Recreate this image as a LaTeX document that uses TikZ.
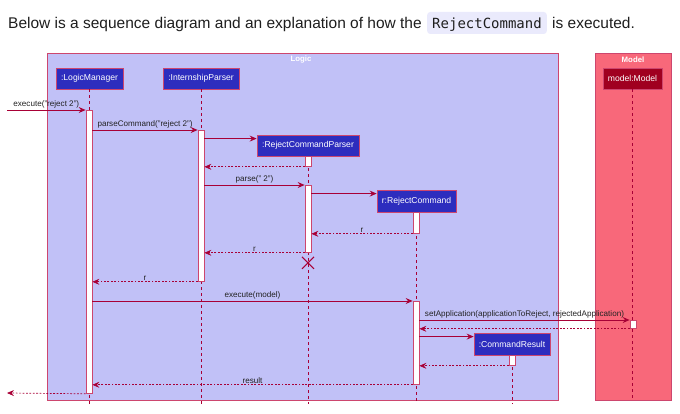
\documentclass[tikz,border=0pt]{standalone}
\usepackage{fontspec}
\setmainfont{Liberation Sans}
\newfontfamily\codefont{DejaVu Sans Mono}
\usetikzlibrary{arrows.meta,calc}
\definecolor{crim}{RGB}{168,0,54}
\definecolor{logicbg}{RGB}{193,193,247}
\definecolor{framebd}{RGB}{205,70,110}
\definecolor{partbg}{RGB}{45,45,190}
\definecolor{modelbg}{RGB}{248,104,122}
\definecolor{modelbox}{RGB}{160,0,32}
\definecolor{codebg}{RGB}{234,234,252}
\definecolor{titlec}{RGB}{30,30,30}
\definecolor{lblc}{RGB}{35,35,35}
\begin{document}
\begin{tikzpicture}[x=1pt,y=-1pt,
  part/.style={draw=framebd, fill=partbg, line width=0.8pt, text=white, minimum height=21pt, inner sep=0pt,
    font=\fontsize{8.6}{9}\selectfont},
  actbox/.style={draw=framebd, fill=white, line width=0.8pt, minimum width=6pt, inner sep=0pt, anchor=north},
  tip/.tip={Stealth[length=7pt,width=6pt,inset=2.5pt]},
  msg/.style={draw=crim, line width=0.7pt, -tip},
  ret/.style={msg, dash pattern=on 1.8pt off 1.6pt},
  lifeline/.style={draw=crim, line width=0.6pt, dash pattern=on 3pt off 3pt},
  lbl/.style={font=\fontsize{8.1}{8.5}\selectfont, text=lblc, inner sep=1pt, above},
  ftitle/.style={font=\bfseries\fontsize{7.8}{8}\selectfont, text=white}]
\useasboundingbox (0,0) rectangle (680,414);
\coordinate (bot) at (0,404);
% title
\node[anchor=base west, inner sep=0pt, text=titlec, font=\fontsize{15.5}{18}\selectfont] (t1) at (8,29)
  {Below is a sequence diagram and an explanation of how the};
\node[anchor=base west, fill=codebg, rounded corners=3pt, inner xsep=5pt, inner ysep=4pt,
  text height=13pt, text depth=1pt, text=titlec, font=\codefont\fontsize{14}{16}\selectfont] (code)
  at ($(t1.base east)+(5,0)$) {RejectCommand};
\node[anchor=base west, inner sep=0pt, text=titlec, font=\fontsize{15.5}{18}\selectfont] (t2)
  at ($(code.base east)+(5,0)$) {is executed.};
% frames
\filldraw[fill=logicbg, draw=framebd, line width=0.8pt] (47,53) rectangle (558,400);
\node[ftitle] (logicT) at (301,60) {Logic};
\filldraw[fill=modelbg, draw=framebd, line width=0.8pt] (595,53) rectangle (671,400);
\node[ftitle] (modelT) at (633,60) {Model};
% participants
\node[part, minimum width=67pt] (lm) at (89.5,78.5) {:LogicManager};
\node[part, minimum width=76pt] (ip) at (201,78.5) {:InternshipParser};
\node[part, minimum width=102pt] (rcp) at (308,145.5) {:RejectCommandParser};
\node[part, minimum width=79pt, minimum height=22pt] (rc) at (416.5,201) {r:RejectCommand};
\node[part, minimum width=76pt, minimum height=22pt] (cr) at (512,344) {:CommandResult};
\node[part, fill=modelbox, minimum width=59pt] (mm) at (632.5,78.5) {model:Model};
% lifelines
\draw[lifeline] (lm.south) -- (lm.south |- bot);
\draw[lifeline] (ip.south) -- (ip.south |- bot);
\draw[lifeline] (rcp.south) -- (rcp.south |- bot);
\draw[lifeline] (rc.south) -- (rc.south |- bot);
\draw[lifeline] (cr.south) -- (cr.south |- bot);
\draw[lifeline] (mm.south) -- ($(mm.south |- bot)+(0,-4)$);
% activations
\node[actbox, minimum height=283pt] (a1) at (89,110) {};
\node[actbox, minimum height=151pt] (a2) at (201,130) {};
\node[actbox, minimum height=10pt] (a3) at (308,156) {};
\node[actbox, minimum height=67pt] (a4) at (308,185) {};
\node[actbox, minimum height=21pt] (a5) at (416,212) {};
\node[actbox, minimum height=83pt] (a6) at (416,301) {};
\node[actbox, minimum height=8pt] (a7) at (633,320) {};
\node[actbox, minimum height=10pt] (a8) at (512,355) {};
% free ends and creation points
\coordinate (start) at (7,110);
\coordinate (finish) at (7,393);
\coordinate (rcpin) at ($(rcp.north west)+(0,4)$);
\coordinate (rcin) at ($(rc.north west)+(0,4)$);
\coordinate (crin) at ($(cr.north west)+(0,4)$);
% messages
\draw[msg] (start) -- (a1.north west) node[lbl, midway] {execute("reject 2")};
\draw[msg] (a1.east |- a2.north) -- (a2.north west) node[lbl, midway] {parseCommand("reject 2")};
\draw[msg] (a2.east |- rcpin) -- (rcpin);
\draw[ret] (a3.south west) -- (a2.east |- a3.south);
\draw[msg] (a2.east |- a4.north) -- (a4.north west) node[lbl, midway] {parse(" 2")};
\draw[msg] (a4.east |- rcin) -- (rcin);
\draw[ret] (a5.south west) -- (a4.east |- a5.south) node[lbl, midway] {r};
\draw[ret] (a4.south west) -- (a2.east |- a4.south) node[lbl, midway] {r};
\draw[crim, line width=1.1pt] ($(a4.south)+(-6,4)$) -- ($(a4.south)+(6,16)$)
  ($(a4.south)+(6,4)$) -- ($(a4.south)+(-6,16)$);
\draw[ret] (a2.south west) -- (a1.east |- a2.south) node[lbl, midway] {r};
\draw[msg] (a1.east |- a6.north) -- (a6.north west) node[lbl, midway] {execute(model)};
\draw[msg] (a6.east |- a7.north) -- (a7.north west) node[lbl, midway] {setApplication(applicationToReject, rejectedApplication)};
\draw[ret] (a7.south west) -- (a6.east |- a7.south);
\draw[msg] (a6.east |- crin) -- (crin);
\draw[ret] (a8.south west) -- (a6.east |- a8.south);
\draw[ret] (a6.south west) -- (a1.east |- a6.south) node[lbl, midway] {result};
\draw[ret] (a1.south west) -- (finish);
\end{tikzpicture}
\end{document}
